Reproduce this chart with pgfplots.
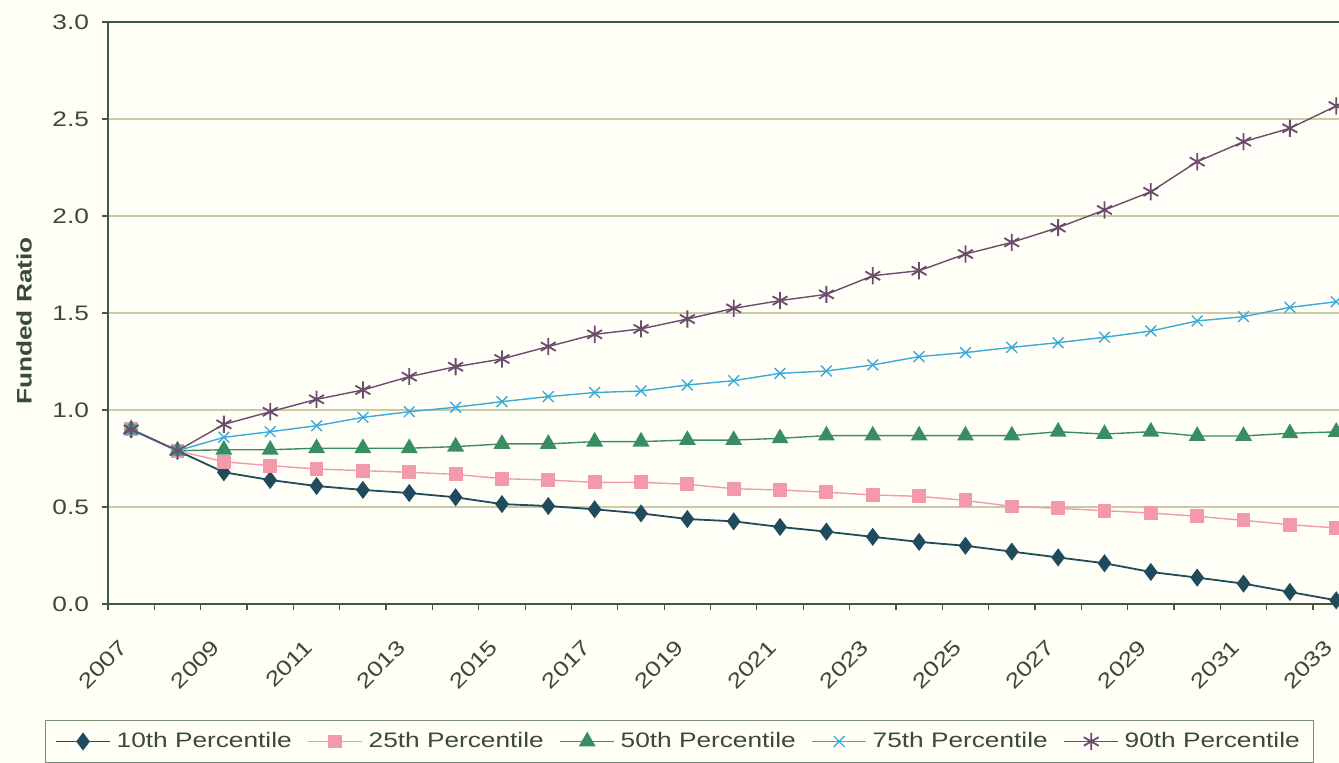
\documentclass[border=0pt]{standalone}
\usepackage{fontspec}
\setmainfont{Liberation Sans}[FakeStretch=1.25]
\usepackage{pgfplots}
\pgfplotsset{compat=1.18}
\definecolor{bgcol}{HTML}{FFFFF8}
\definecolor{axiscol}{HTML}{3F5A3C}
\definecolor{gridcol}{HTML}{C9CBA6}
\definecolor{txtcol}{HTML}{3A4A35}
\definecolor{cten}{HTML}{1F4B5D}
\definecolor{ctwf}{HTML}{F39AAA}
\definecolor{cfif}{HTML}{388E60}
\definecolor{csev}{HTML}{3CAAD6}
\definecolor{cnin}{HTML}{6C4B6C}
\begin{document}
\begin{tikzpicture}
\fill[bgcol] (-54pt,-79.5pt) rectangle (615.5pt,302pt);
\begin{axis}[
  at={(0,0)}, anchor=south west,
  scale only axis, width=615.5pt, height=291pt,
  xmin=2006.5, xmax=2033.06, ymin=0, ymax=3,
  clip=false,
  axis x line*=bottom, axis y line*=left,
  axis line style={axiscol, line width=0.8pt},
  tick align=outside,
  major tick length=3pt, minor tick length=3pt,
  tick style={axiscol, line width=0.6pt},
  xtick={2007,2009,...,2033},
  minor xtick={2006.5,2007.5,...,2033.5},
  major x tick style={draw=none},
  ytick={0,0.5,...,3},
  ymajorgrids,
  major y grid style={gridcol, line width=0.6pt},
  /pgf/number format/assume math mode=true,
  tick label style={font=\fontsize{10.5}{12}\selectfont, text=txtcol},
  xticklabel style={xshift=-6.5pt, yshift=-14pt, rotate=45, anchor=north east, inner sep=0pt, /pgf/number format/1000 sep={}},
  yticklabel style={xshift=-3pt, /pgf/number format/.cd, fixed, fixed zerofill, precision=1},
  ylabel={Funded Ratio},
  every axis y label/.style={at={(axis description cs:-0.0682,0.486)}, rotate=90, anchor=center, font=\fontsize{10.5}{12}\selectfont\bfseries, text=txtcol},
  legend columns=5,
  legend style={at={(axis description cs:-0.0512,-0.1993)}, anchor=north west,
    draw=axiscol!70, fill=bgcol, font=\fontsize{10.5}{12}\selectfont, text=txtcol,
    inner xsep=5pt, inner ysep=4pt,
    /tikz/every odd column/.append style={column sep=1pt},
    /tikz/every even column/.append style={column sep=6pt}},
  legend image code/.code={\draw[mark repeat=2,mark phase=2] plot coordinates {(0cm,0cm) (0.47cm,0cm) (0.94cm,0cm)};},
]
\addplot[cten, line width=0.9pt, mark=diamond*, mark size=3.8pt, mark options={fill=cten, draw=cten}] coordinates {
(2007,0.90)(2008,0.79)(2009,0.679)(2010,0.639)(2011,0.608)(2012,0.588)(2013,0.572)(2014,0.55)(2015,0.515)(2016,0.505)(2017,0.488)(2018,0.467)(2019,0.438)(2020,0.426)(2021,0.397)(2022,0.373)(2023,0.346)(2024,0.32)(2025,0.30)(2026,0.27)(2027,0.24)(2028,0.21)(2029,0.165)(2030,0.136)(2031,0.105)(2032,0.062)(2033,0.019)};
\addlegendentry{10th Percentile}
\addplot[ctwf, line width=0.7pt, mark=square*, mark size=3.1pt, mark options={fill=ctwf, draw=ctwf}] coordinates {
(2007,0.90)(2008,0.79)(2009,0.733)(2010,0.713)(2011,0.696)(2012,0.687)(2013,0.679)(2014,0.668)(2015,0.646)(2016,0.639)(2017,0.627)(2018,0.627)(2019,0.617)(2020,0.594)(2021,0.588)(2022,0.576)(2023,0.562)(2024,0.555)(2025,0.534)(2026,0.503)(2027,0.493)(2028,0.481)(2029,0.469)(2030,0.452)(2031,0.431)(2032,0.409)(2033,0.392)};
\addlegendentry{25th Percentile}
\addplot[cfif, line width=0.7pt, mark=triangle*, mark size=4.2pt, mark options={fill=cfif, draw=cfif}] coordinates {
(2007,0.90)(2008,0.79)(2009,0.795)(2010,0.795)(2011,0.803)(2012,0.803)(2013,0.803)(2014,0.811)(2015,0.825)(2016,0.825)(2017,0.837)(2018,0.837)(2019,0.845)(2020,0.845)(2021,0.854)(2022,0.868)(2023,0.868)(2024,0.868)(2025,0.868)(2026,0.868)(2027,0.888)(2028,0.876)(2029,0.888)(2030,0.866)(2031,0.866)(2032,0.88)(2033,0.887)};
\addlegendentry{50th Percentile}
\addplot[csev, line width=0.7pt, mark=x, mark size=3.8pt, mark options={draw=csev, line width=0.7pt}] coordinates {
(2007,0.90)(2008,0.79)(2009,0.859)(2010,0.888)(2011,0.919)(2012,0.962)(2013,0.991)(2014,1.014)(2015,1.043)(2016,1.069)(2017,1.09)(2018,1.098)(2019,1.129)(2020,1.151)(2021,1.189)(2022,1.201)(2023,1.232)(2024,1.275)(2025,1.296)(2026,1.323)(2027,1.347)(2028,1.375)(2029,1.407)(2030,1.459)(2031,1.481)(2032,1.529)(2033,1.558)};
\addlegendentry{75th Percentile}
\addplot[cnin, line width=0.7pt, mark=asterisk, mark size=4.3pt, mark options={draw=cnin, line width=0.9pt}] coordinates {
(2007,0.90)(2008,0.79)(2009,0.926)(2010,0.991)(2011,1.055)(2012,1.103)(2013,1.172)(2014,1.223)(2015,1.263)(2016,1.327)(2017,1.39)(2018,1.418)(2019,1.469)(2020,1.524)(2021,1.564)(2022,1.596)(2023,1.692)(2024,1.718)(2025,1.804)(2026,1.864)(2027,1.94)(2028,2.031)(2029,2.125)(2030,2.28)(2031,2.383)(2032,2.452)(2033,2.567)};
\addlegendentry{90th Percentile}
\draw[axiscol, line width=0.8pt] (rel axis cs:0,1) -- (rel axis cs:1,1);
\end{axis}
\pgfresetboundingbox
\useasboundingbox (-54pt,-79.5pt) rectangle (615.5pt,302pt);
\end{tikzpicture}
\end{document}
